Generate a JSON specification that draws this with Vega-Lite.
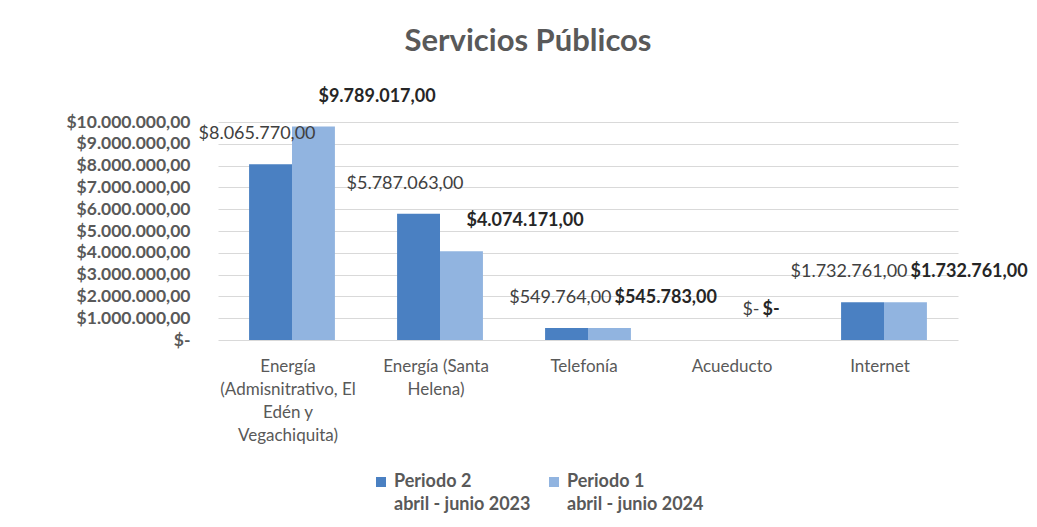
{
  "$schema": "https://vega.github.io/schema/vega-lite/v6.json",
  "autosize": {"type": "none"},
  "width": 740,
  "height": 218,
  "padding": {"left": 218, "top": 122, "right": 79, "bottom": 187},
  "background": "white",
  "config": {
    "font": "Lato",
    "view": {"stroke": null},
    "style": {"guide-label": {"lineHeight": 23}},
    "locale": {"number": {"decimal": ",", "thousands": ".", "grouping": [3], "currency": ["$", ""]}}
  },
  "title": {
    "text": "Servicios Públicos",
    "fontSize": 31,
    "fontWeight": "bold",
    "color": "#595959",
    "anchor": "middle",
    "dx": -60,
    "offset": 30
  },
  "data": {
    "values": [
      {"categoria": "Energía (Admisnitrativo, El Edén y Vegachiquita)", "periodo": "Periodo 2", "valor": 8065770},
      {"categoria": "Energía (Admisnitrativo, El Edén y Vegachiquita)", "periodo": "Periodo 1", "valor": 9789017},
      {"categoria": "Energía (Santa Helena)", "periodo": "Periodo 2", "valor": 5787063},
      {"categoria": "Energía (Santa Helena)", "periodo": "Periodo 1", "valor": 4074171},
      {"categoria": "Telefonía", "periodo": "Periodo 2", "valor": 549764},
      {"categoria": "Telefonía", "periodo": "Periodo 1", "valor": 545783},
      {"categoria": "Acueducto", "periodo": "Periodo 2", "valor": 0},
      {"categoria": "Acueducto", "periodo": "Periodo 1", "valor": 0},
      {"categoria": "Internet", "periodo": "Periodo 2", "valor": 1732761},
      {"categoria": "Internet", "periodo": "Periodo 1", "valor": 1732761}
    ]
  },
  "transform": [
    {"calculate": "datum.valor == 0 ? '$-' : format(datum.valor, '$,.2f')", "as": "etiqueta"}
  ],
  "encoding": {
    "x": {
      "field": "categoria",
      "type": "nominal",
      "sort": null,
      "title": null,
      "scale": {"paddingInner": 0.42, "paddingOuter": 0.21},
      "axis": {
        "labelAngle": 0,
        "domain": false,
        "ticks": false,
        "labelPadding": 18,
        "labelFontSize": 17,
        "labelColor": "#595959",
        "labelLineHeight": 23,
        "labelBaseline": "top",
        "labelOffset": -4,
        "labelExpr": "datum.label == 'Energía (Admisnitrativo, El Edén y Vegachiquita)' ? ['Energía', '(Admisnitrativo, El', 'Edén y', 'Vegachiquita)'] : datum.label == 'Energía (Santa Helena)' ? ['Energía (Santa', 'Helena)'] : datum.label"
      }
    },
    "xOffset": {
      "field": "periodo",
      "type": "nominal",
      "scale": {"domain": ["Periodo 2", "Periodo 1"], "paddingInner": 0, "paddingOuter": 0}
    },
    "y": {
      "field": "valor",
      "type": "quantitative",
      "title": null,
      "scale": {"domain": [0, 10000000], "nice": false},
      "axis": {
        "values": [0, 1000000, 2000000, 3000000, 4000000, 5000000, 6000000, 7000000, 8000000, 9000000, 10000000],
        "format": "$,.2f",
        "labelExpr": "datum.value == 0 ? '$-' : datum.label",
        "domain": false,
        "ticks": false,
        "labelPadding": 28,
        "labelFontSize": 17.5,
        "labelFontWeight": "bold",
        "labelColor": "#595959",
        "gridColor": "#d9d9d9",
        "gridWidth": 1
      }
    }
  },
  "layer": [
    {
      "mark": {"type": "bar"},
      "encoding": {
        "color": {
          "field": "periodo",
          "type": "nominal",
          "scale": {"domain": ["Periodo 2", "Periodo 1"], "range": ["#4a80c2", "#91b4e0"]},
          "legend": {
            "title": null,
            "orient": "none",
            "legendX": 154,
            "legendY": 351,
            "direction": "horizontal",
            "columns": 2,
            "columnPadding": 10,
            "symbolType": "square",
            "symbolSize": 100,
            "symbolStrokeWidth": 0,
            "labelOffset": 4,
            "labelFontSize": 18,
            "labelFontWeight": "bold",
            "labelColor": "#595959",
            "labelExpr": "datum.label == 'Periodo 2' ? ['Periodo 2', 'abril  - junio 2023'] : ['Periodo 1', 'abril - junio 2024']"
          }
        }
      }
    },
    {
      "transform": [{"filter": "datum.periodo == 'Periodo 2'"}],
      "mark": {"type": "text", "align": "right", "baseline": "middle", "dx": 45, "dy": -30, "fontSize": 18, "color": "#404040"},
      "encoding": {"text": {"field": "etiqueta"}}
    },
    {
      "transform": [{"filter": "datum.periodo == 'Periodo 1'"}],
      "mark": {"type": "text", "align": "left", "baseline": "middle", "dx": 5, "dy": -30, "fontSize": 18, "fontWeight": "bold", "color": "#262626"},
      "encoding": {"text": {"field": "etiqueta"}}
    }
  ]
}
